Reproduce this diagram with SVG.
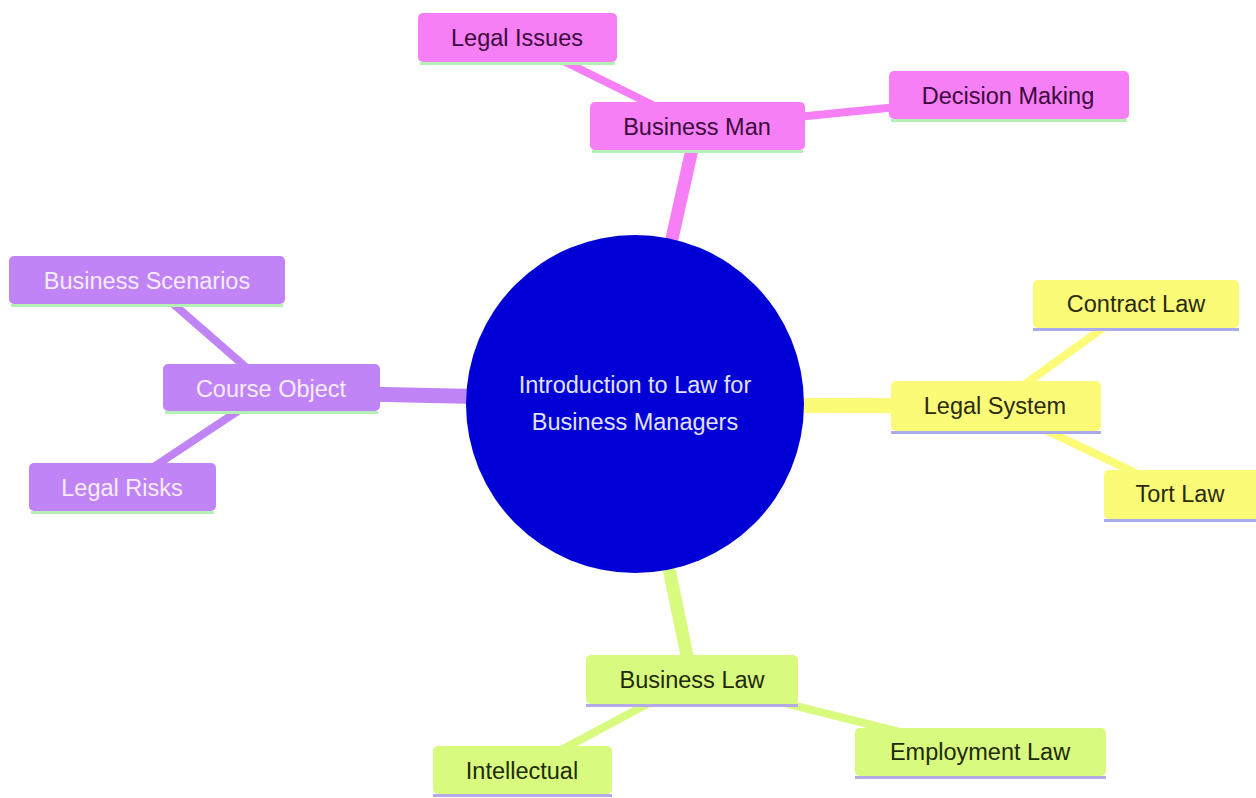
<svg xmlns="http://www.w3.org/2000/svg" width="1256" height="798" viewBox="0 0 1256 798">
<style>
  text { font-family: "Liberation Sans", Arial, sans-serif; font-size: 23.5px; text-anchor: middle; dominant-baseline: central; }
  .e { fill: none; stroke-linecap: butt; }
  .pink rect { fill: #f77ff5; }
  .pink text { fill: #3c0a3c; }
  .pink line { stroke: #b4f0b4; }
  .purple rect { fill: #c084f6; }
  .purple text { fill: #f6ecff; }
  .purple line { stroke: #b4f0b4; }
  .yellow rect { fill: #fbfb78; }
  .yellow text { fill: #2a2a10; }
  .yellow line { stroke: #aaaaee; }
  .green rect { fill: #d8fa7e; }
  .green text { fill: #1e2a0a; }
  .green line { stroke: #b4aaea; }
  .node line { stroke-width: 3; }
</style>
<rect width="1256" height="798" fill="#ffffff"/>
<g id="connectors">
  <line class="e" x1="635" y1="404" x2="697" y2="127" stroke="#f77ff5" stroke-width="13"/>
  <line class="e" x1="517" y1="38" x2="697" y2="127" stroke="#f77ff5" stroke-width="8"/>
  <line class="e" x1="1008" y1="96" x2="697" y2="127" stroke="#f77ff5" stroke-width="8"/>
  <line class="e" x1="635" y1="400" x2="271" y2="392" stroke="#c084f6" stroke-width="15"/>
  <line class="e" x1="147" y1="281" x2="271" y2="389" stroke="#c084f6" stroke-width="8"/>
  <line class="e" x1="122" y1="488" x2="271" y2="389" stroke="#c084f6" stroke-width="8"/>
  <line class="e" x1="635" y1="405" x2="995" y2="406" stroke="#fbfb78" stroke-width="15"/>
  <line class="e" x1="1136" y1="304" x2="995" y2="406" stroke="#fbfb78" stroke-width="8"/>
  <line class="e" x1="1180" y1="494" x2="995" y2="406" stroke="#fbfb78" stroke-width="8"/>
  <line class="e" x1="635" y1="404" x2="692" y2="680" stroke="#d8fa7e" stroke-width="13"/>
  <line class="e" x1="522" y1="771" x2="692" y2="680" stroke="#d8fa7e" stroke-width="8"/>
  <line class="e" x1="980" y1="752" x2="692" y2="680" stroke="#d8fa7e" stroke-width="8"/>
</g>
<g id="root">
  <circle cx="635" cy="404" r="169" fill="#0000d6"/>
  <text x="635" y="385" fill="#e2e2fa">Introduction to Law for</text>
  <text x="635" y="422" fill="#e2e2fa">Business Managers</text>
</g>
<g id="business-man" class="node pink">
  <rect x="590" y="102" width="215" height="48" rx="5"/>
  <line x1="592" y1="151.5" x2="803" y2="151.5"/>
  <text x="697" y="127">Business Man</text>
</g>
<g id="legal-issues" class="node pink">
  <rect x="418" y="13" width="199" height="49" rx="5"/>
  <line x1="420" y1="63.5" x2="615" y2="63.5"/>
  <text x="517" y="38">Legal Issues</text>
</g>
<g id="decision-making" class="node pink">
  <rect x="889" y="71" width="240" height="48" rx="5"/>
  <line x1="891" y1="120.5" x2="1127" y2="120.5"/>
  <text x="1008" y="96">Decision Making</text>
</g>
<g id="course-object" class="node purple">
  <rect x="163" y="364" width="217" height="47" rx="5"/>
  <line x1="165" y1="412.5" x2="378" y2="412.5"/>
  <text x="271" y="389">Course Object</text>
</g>
<g id="business-scenarios" class="node purple">
  <rect x="9" y="256" width="276" height="48" rx="5"/>
  <line x1="11" y1="305.5" x2="283" y2="305.5"/>
  <text x="147" y="281">Business Scenarios</text>
</g>
<g id="legal-risks" class="node purple">
  <rect x="29" y="463" width="187" height="48" rx="5"/>
  <line x1="31" y1="512.5" x2="214" y2="512.5"/>
  <text x="122" y="488">Legal Risks</text>
</g>
<g id="legal-system" class="node yellow">
  <rect x="891" y="381" width="210" height="50" rx="5"/>
  <line x1="891" y1="432.5" x2="1101" y2="432.5"/>
  <text x="995" y="406">Legal System</text>
</g>
<g id="contract-law" class="node yellow">
  <rect x="1033" y="280" width="206" height="48" rx="5"/>
  <line x1="1033" y1="329.5" x2="1239" y2="329.5"/>
  <text x="1136" y="304">Contract Law</text>
</g>
<g id="tort-law" class="node yellow">
  <rect x="1104" y="470" width="156" height="49" rx="5"/>
  <line x1="1104" y1="520.5" x2="1256" y2="520.5"/>
  <text x="1180" y="494">Tort Law</text>
</g>
<g id="business-law" class="node green">
  <rect x="586" y="655" width="212" height="49" rx="5"/>
  <line x1="586" y1="705.5" x2="798" y2="705.5"/>
  <text x="692" y="680">Business Law</text>
</g>
<g id="intellectual" class="node green">
  <rect x="433" y="746" width="179" height="48" rx="5"/>
  <line x1="433" y1="795.5" x2="612" y2="795.5"/>
  <text x="522" y="771">Intellectual</text>
</g>
<g id="employment-law" class="node green">
  <rect x="855" y="728" width="251" height="48" rx="5"/>
  <line x1="855" y1="777.5" x2="1106" y2="777.5"/>
  <text x="980" y="752">Employment Law</text>
</g>
</svg>
